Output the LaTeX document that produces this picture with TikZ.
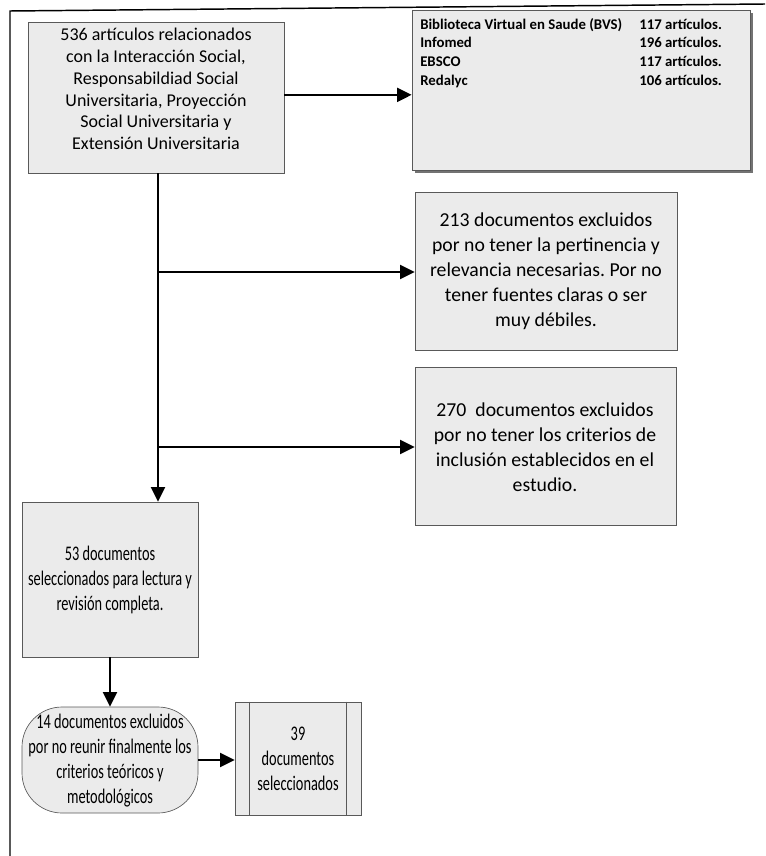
\documentclass[tikz,border=0pt]{standalone}
\usepackage{fontspec}
\setmainfont{Carlito}
\newfontfamily\condfont[FakeStretch=0.69]{Carlito}
\usetikzlibrary{arrows.meta,fit,shadows}
\frenchspacing
\begin{document}
\begin{tikzpicture}[x=0.75pt,y=-0.75pt,
  box/.style={draw=black!65, line width=0.5pt, fill=black!8, inner sep=0pt},
  arr/.style={line width=1.7pt, -{Triangle[length=11pt,width=10.5pt]}},
  txt/.style={align=center, inner sep=0pt},
  bigtxt/.style={txt, font=\fontsize{14.8}{18.75}\selectfont},
  condtxt/.style={txt, font=\condfont\fontsize{15.6}{18.75}\selectfont},
]
\useasboundingbox (0,0) rectangle (765,856);
% frame
\draw[line width=1.1pt] (10,856) coordinate (fa) -- (10,11) coordinate (fb) -- (765,4) coordinate (fc);

% box 1
\node[box, fit={(28,22)(284,173)}] (b1) {};
\node[txt, font=\fontsize{13.5}{16.3}\selectfont] (t1) at (156,89)
  {536 artículos relacionados\\con la Interacción Social,\\Responsabildiad Social\\Universitaria, Proyección\\Social Universitaria y\\Extensión Universitaria};

% box 2
\node[box, drop shadow={shadow xshift=2.5pt, shadow yshift=-2.5pt, fill=black!55, opacity=1}, fit={(412,10)(750,170)}] (b2) {};
\node[anchor=north west, inner sep=0pt, font=\bfseries\fontsize{11.1}{14}\selectfont] (t2) at (420,16)
  {\begin{tabular}{@{}p{164.25pt}@{}l@{}}
   Biblioteca Virtual en Saude (BVS) & 117 artículos.\\
   Infomed & 196 artículos.\\
   EBSCO & 117 artículos.\\
   Redalyc & 106 artículos.
   \end{tabular}};

% box 3
\node[box, fit={(415,192)(677,350)}] (b3) {};
\node[bigtxt] (t3) at (546,271)
  {213 documentos excluidos\\por no tener la pertinencia y\\relevancia necesarias. Por no\\tener fuentes claras o ser\\muy débiles.};

% box 4
\node[box, fit={(415,367)(676,525)}] (b4) {};
\node[bigtxt] (t4) at (545,447)
  {270\ \ documentos excluidos\\por no tener los criterios de\\inclusión establecidos en el\\estudio.};

% box 5
\node[box, fit={(22,502)(198,657)}] (b5) {};
\node[condtxt] (t5) at (110,580)
  {53 documentos\\seleccionados para lectura y\\revisión completa.};

% terminal
\node[box, rounded corners=30pt, fit={(22,707)(198,813)}] (term) {};
\node[condtxt] (t6) at (110,761)
  {14 documentos excluidos\\por no reunir finalmente los\\criterios teóricos y\\metodológicos};

% box 6
\node[box, fit={(235,702)(361,815)}] (b6) {};
\draw[black!65, line width=0.5pt] ([xshift=11.25pt]b6.north west) -- ([xshift=11.25pt]b6.south west);
\draw[black!65, line width=0.5pt] ([xshift=-11.25pt]b6.north east) -- ([xshift=-11.25pt]b6.south east);
\node[condtxt] (t7) at (298,759)
  {39\\documentos\\seleccionados};

% connectors
\coordinate (v0) at (158,173);
\coordinate (j1) at (158,272);
\coordinate (j2) at (158,447);
\draw[arr] ([yshift=2pt]b1.east) -- ([yshift=2pt]b1.east -| b2.west);
\draw[arr] (v0) -- (v0 |- b5.north);
\draw[arr] (j1) -- (j1 -| b3.west);
\draw[arr] (j2) -- (j2 -| b4.west);
\draw[arr] (b5.south) -- (term.north);
\draw[arr] (term.east) -- (term.east -| b6.west);
\end{tikzpicture}
\end{document}
